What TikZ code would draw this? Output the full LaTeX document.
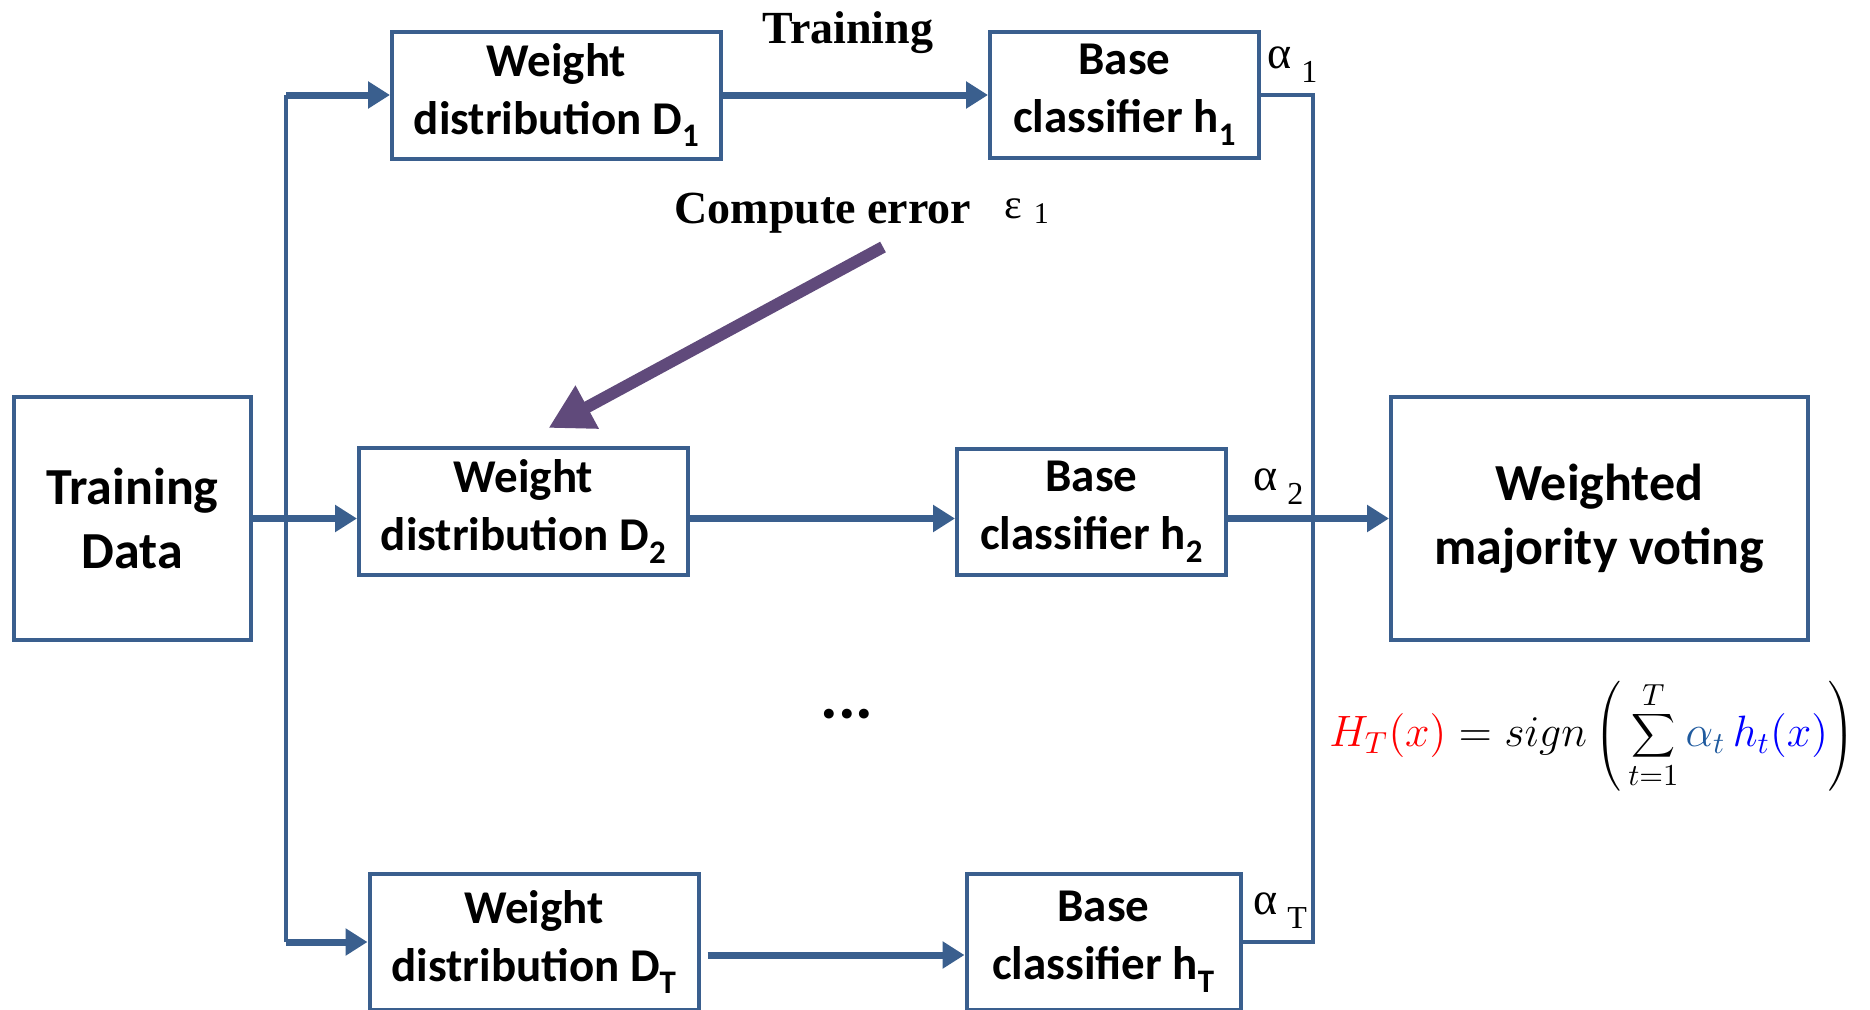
\documentclass[tikz,border=0pt]{standalone}
\usepackage[no-math]{fontspec}
\setmainfont{Carlito}
\newfontfamily\timesfont{Liberation Serif}
\usepackage{xcolor}
\definecolor{myblue}{HTML}{3A5F8E}
\definecolor{mypurple}{HTML}{604A7B}
\definecolor{myteal}{HTML}{1F5A9E}
\usepackage{tikz}
\usetikzlibrary{positioning,arrows.meta,calc}
\newcommand{\boxfont}{\bfseries\fontsize{47}{58}\selectfont}
\newcommand{\bigfont}{\bfseries\fontsize{52}{64}\selectfont}
\newcommand{\alab}[1]{{\timesfont\fontsize{46}{46}\selectfont α}\hspace{10pt}\raisebox{-14pt}{\timesfont\fontsize{32}{32}\selectfont #1}}
\tikzstyle{block} = [rectangle, draw=myblue, line width=4pt, align=center,
inner sep=0pt, font=\boxfont]
\tikzstyle{distbox} = [block, minimum width=329pt, minimum height=127pt]
\tikzstyle{clfbox} = [block, minimum width=269pt, minimum height=126pt]
\tikzstyle{bigbox} = [block, minimum height=243pt, font=\bigfont]
\tikzstyle{line} = [draw=myblue, line width=7pt, -{Triangle[length=22pt,width=26pt]}]
\tikzstyle{bus} = [draw=myblue, line width=4pt]
\tikzstyle{errline} = [draw=mypurple, line width=12pt, -{Triangle[length=44pt,width=46pt]}]
\tikzstyle{serlabel} = [inner sep=0pt, font=\timesfont\bfseries\fontsize{46}{46}\selectfont]

\begin{document}
\begin{tikzpicture}[x=1pt, y=-1pt]
    \useasboundingbox (0,0) rectangle (1870,1009);
    % Nodes
    \node [bigbox, minimum width=237pt] (tdata) at (132.5,518.5) {Training\\Data};
    \node [distbox, right=104pt of tdata, yshift=7pt] (d2) {Weight\\distribution D\textsubscript{2}};
    \node [clfbox, right=265pt of d2] (h2) {Base\\classifier h\textsubscript{2}};
    \node [bigbox, minimum width=417pt, right=161pt of h2, yshift=-7pt] (vote) {Weighted\\majority voting};

    \node [distbox] (d1) at (556.5,95) {Weight\\distribution D\textsubscript{1}};
    \node [clfbox, right=265pt of d1] (h1) {Base\\classifier h\textsubscript{1}};

    \node [distbox, minimum height=136pt] (dT) at (534,942) {Weight\\distribution D\textsubscript{T}};
    \node [clfbox, minimum width=274pt, minimum height=136pt, right=264pt of dT] (hT) {Base\\classifier h\textsubscript{T}};

    % Labels
    \node [serlabel, anchor=base] (trn) at (848,43) {Training};
    \node [serlabel, anchor=base] (cerr) at (823,223) {Compute error};
    \node [inner sep=0pt, anchor=base west] (eps) at (1004,218)
        {{\timesfont\fontsize{42}{42}\selectfont ε}\hspace{12pt}\raisebox{-5pt}{\timesfont\fontsize{30}{30}\selectfont 1}};
    \node [inner sep=0pt, anchor=base west] (a1) at (1267,68) {\alab{1}};
    \node [inner sep=0pt, anchor=base west] (a2) at (1253,490) {\alab{2}};
    \node [inner sep=0pt, anchor=base west] (aT) at (1253,914) {\alab{T}};
    \node [inner sep=0pt, font=\bfseries\fontsize{66}{66}\selectfont] (dots) at (847,714) {...};
    \node [inner sep=0pt] (hform) at (1592,736) {\scalebox{3.05}{\Large$\displaystyle
        {\color{red}H_T(x)} = sign\left(\,\sum_{t=1}^{T}{\color{myteal}\alpha_t}\,{\color{blue}h_t(x)}\right)$}};

    % Buses
    \coordinate (lbus) at (286,518);
    \coordinate (rbus) at (1313,518);
    \draw [bus] (lbus |- d1.west) -- (lbus |- dT.west);
    \draw [bus] (h1.east) -- (rbus |- h1.east) -- (rbus |- hT.east) -- (hT.east);

    % Arrows
    \draw [line] (tdata.east) -- (tdata.east -| d2.west);
    \draw [line] (lbus |- d1.west) -- (d1.west);
    \draw [line] (lbus |- dT.west) -- (dT.west);
    \draw [line] (d1) -- (h1);
    \draw [line] (d2.east |- tdata.east) -- (h2.west |- tdata.east);
    \draw [line] ([xshift=7pt,yshift=-13pt]dT.east) -- ([yshift=-13pt]hT.west);
    \draw [line] (h2.east |- vote.west) -- (vote.west);

    \coordinate (errtail) at (883,247);
    \coordinate (errtip) at ([shift={(25pt,18pt)}]d2.north);
    \draw [errline] (errtail) -- (errtip);
\end{tikzpicture}
\end{document}
